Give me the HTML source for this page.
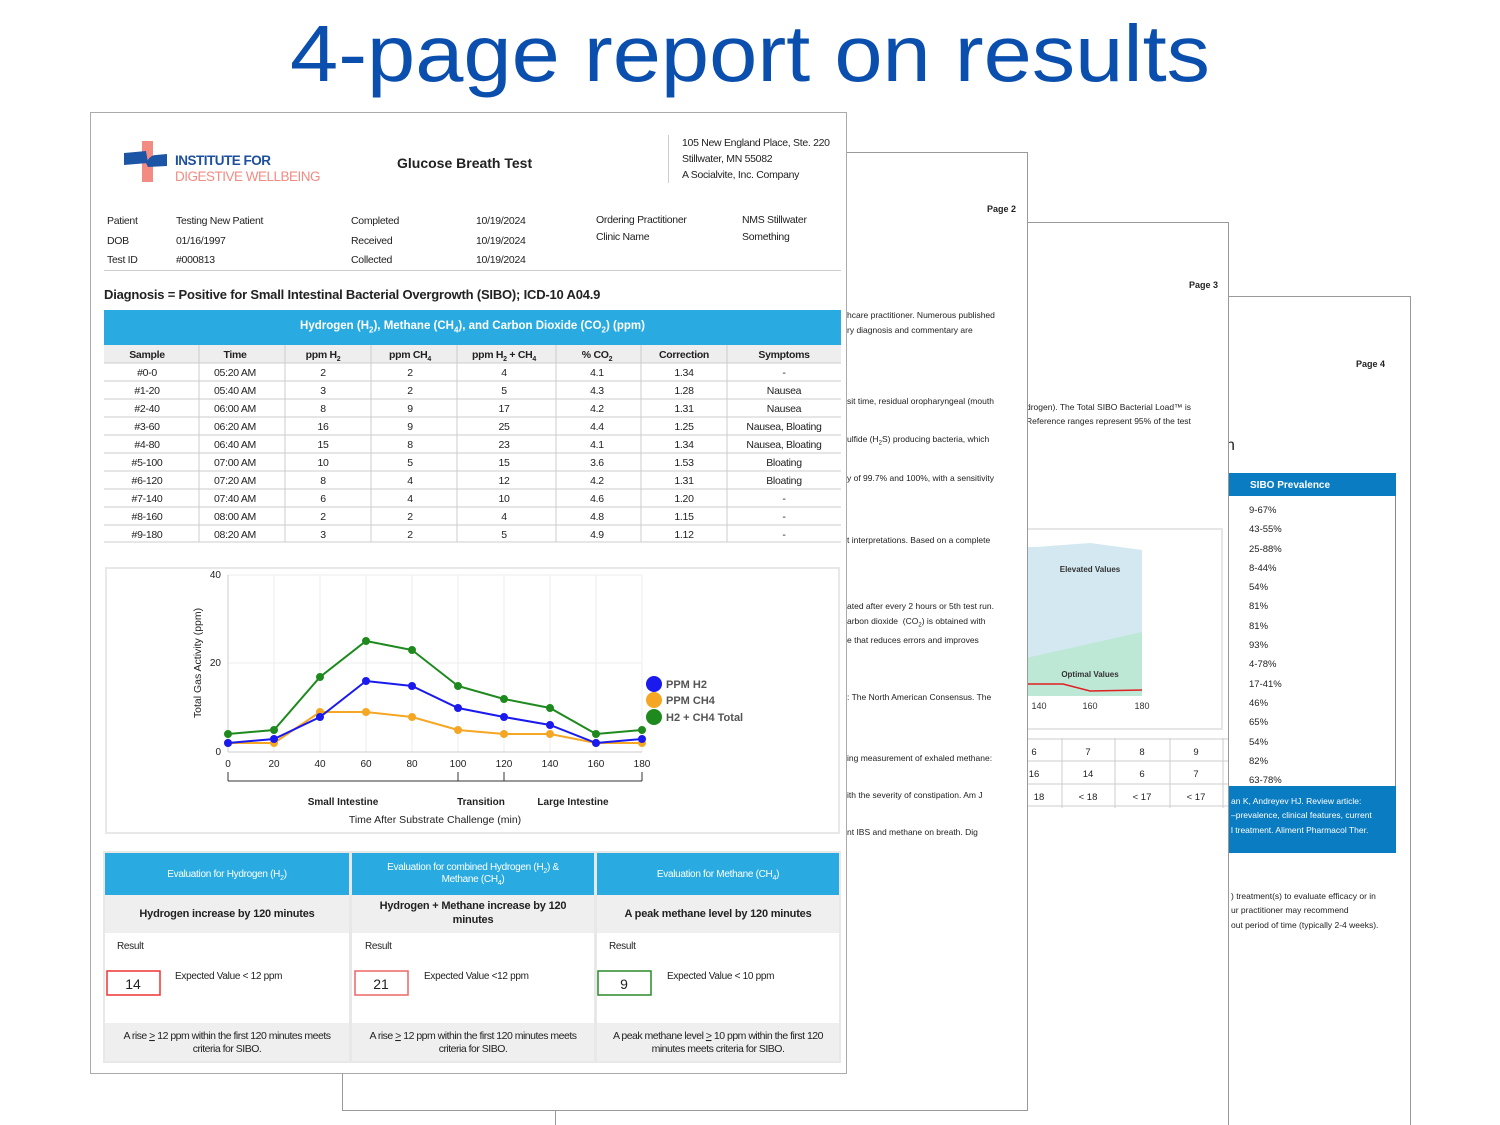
<!DOCTYPE html>
<html style="width:1500px;height:1125px;overflow:hidden"><head><meta charset="utf-8"><style>
*{margin:0;padding:0;box-sizing:border-box}
html,body{overflow:hidden}
body{width:1500px;height:1125px;background:#fff;position:relative;overflow:hidden;font-family:"Liberation Sans",Arial,sans-serif;color:#222}
.a{position:absolute;white-space:nowrap}
.pg{position:absolute;background:#fff;border:1px solid #999}
.s{font-size:9px;color:#222}
</style></head><body>

<svg class="a" style="left:0;top:0" width="1500" height="110"><text x="290" y="81" textLength="920" lengthAdjust="spacingAndGlyphs" font-family="Liberation Sans" font-size="80" fill="#0b4fae">4-page report on results</text></svg>

<!-- page 4 -->
<div class="pg" style="left:1000px;top:296px;width:411px;height:860px">
  <div class="a s" style="left:355px;top:62px;font-weight:bold">Page 4</div>
  <div class="a" style="left:225px;top:140px;font-size:16px">n</div>
  <div class="a" style="left:228px;top:176px;width:167px;height:23px;background:#0a7cc1"></div>
  <div class="a" style="left:249px;top:183px;font-size:10px;color:#fff;font-weight:bold">SIBO Prevalence</div>
  <div class="a" style="left:394px;top:199px;width:1px;height:290px;background:#888"></div>
  <div class="a" style="left:248px;top:204px;font-size:9.5px;line-height:19.3px;white-space:pre">9-67%
43-55%
25-88%
8-44%
54%
81%
81%
93%
4-78%
17-41%
46%
65%
54%
82%
63-78%</div>
  <div class="a" style="left:228px;top:489px;width:167px;height:67px;background:#0a7cc1"></div>
  <div class="a" style="left:230px;top:497px;font-size:8.5px;color:#fff;line-height:14.3px;white-space:pre">an K, Andreyev HJ. Review article:
–prevalence, clinical features, current
l treatment. Aliment Pharmacol Ther.</div>
  <div class="a" style="left:230px;top:592px;font-size:8.5px;line-height:14.3px;white-space:pre">) treatment(s) to evaluate efficacy or in
ur practitioner may recommend
out period of time (typically 2-4 weeks).</div>
</div>

<!-- page 3 -->
<div class="pg" style="left:555px;top:222px;width:674px;height:940px">
  <div class="a s" style="left:633px;top:57px;font-weight:bold">Page 3</div>
  <div class="a" style="left:470px;top:177px;font-size:8.5px;line-height:14px;white-space:pre">drogen). The Total SIBO Bacterial Load™ is
Reference ranges represent 95% of the test</div>
  <div class="a" style="left:467px;top:305px;width:200px;height:202px;border:2px solid #e6e6e6"></div>
  <svg class="a" style="left:470px;top:320px" width="200" height="200">
    <polygon points="0,4 10,4 64,0 116,7 116,153 0,153" fill="#d3e8f0"/>
    <polygon points="0,115 116,89 116,153 0,153" fill="#bde8d6"/>
    <polyline points="0,141 37,141 64,148 116,147" fill="none" stroke="#e02020" stroke-width="1.5"/>
    <text x="64" y="29" font-size="8" font-weight="bold" text-anchor="middle" fill="#333">Elevated Values</text>
    <text x="64" y="134" font-size="8" font-weight="bold" text-anchor="middle" fill="#333">Optimal Values</text>
    <text x="13" y="166" font-size="9" text-anchor="middle" fill="#333">140</text>
    <text x="64" y="166" font-size="9" text-anchor="middle" fill="#333">160</text>
    <text x="116" y="166" font-size="9" text-anchor="middle" fill="#333">180</text>
  </svg>
  <svg class="a" style="left:460px;top:515px" width="215" height="70">
    <g stroke="#ccc"><line x1="0" x2="212" y1="1" y2="1"/><line x1="0" x2="212" y1="23" y2="23"/><line x1="0" x2="212" y1="46" y2="46"/><line x1="0" x2="212" y1="68" y2="68"/>
    <line x1="46" x2="46" y1="0" y2="70"/><line x1="99" x2="99" y1="0" y2="70"/><line x1="154" x2="154" y1="0" y2="70"/><line x1="207" x2="207" y1="0" y2="70"/></g>
    <g font-size="9.5" fill="#222" text-anchor="middle"><text x="18" y="17">6</text><text x="72" y="17">7</text><text x="126" y="17">8</text><text x="180" y="17">9</text>
    <text x="18" y="39">16</text><text x="72" y="39">14</text><text x="126" y="39">6</text><text x="180" y="39">7</text>
    <text x="23" y="62">18</text><text x="72" y="62">&lt; 18</text><text x="126" y="62">&lt; 17</text><text x="180" y="62">&lt; 17</text></g>
  </svg>
</div>

<!-- page 2 -->
<div class="pg" style="left:342px;top:152px;width:686px;height:959px">
  <div class="a s" style="left:644px;top:51px;font-weight:bold">Page 2</div>
  <div class="a" style="left:504px;top:155px;font-size:8.5px;line-height:14.5px;white-space:pre">hcare practitioner. Numerous published
ry diagnosis and commentary are</div>
  <div class="a" style="left:504px;top:243px;font-size:8.5px">sit time, residual oropharyngeal (mouth</div>
  <div class="a" style="left:504px;top:281px;font-size:8.5px">ulfide (H<sub style="font-size:6px">2</sub>S) producing bacteria, which</div>
  <div class="a" style="left:504px;top:320px;font-size:8.5px">y of 99.7% and 100%, with a sensitivity</div>
  <div class="a" style="left:504px;top:382px;font-size:8.5px">t interpretations. Based on a complete</div>
  <div class="a" style="left:504px;top:446px;font-size:8.5px;line-height:14.5px;white-space:pre">ated after every 2 hours or 5th test run.
arbon dioxide  (CO<sub style="font-size:6px">2</sub>) is obtained with
e that reduces errors and improves</div>
  <div class="a" style="left:504px;top:539px;font-size:8.5px">: The North American Consensus. The</div>
  <div class="a" style="left:504px;top:600px;font-size:8.5px">ing measurement of exhaled methane:</div>
  <div class="a" style="left:504px;top:637px;font-size:8.5px">ith the severity of constipation. Am J</div>
  <div class="a" style="left:504px;top:674px;font-size:8.5px">nt IBS and methane on breath. Dig</div>
</div>

<!-- page 1 -->
<div class="pg" style="left:90px;top:112px;width:757px;height:962px;border-color:#aaa">
  <div class="a" style="left:51px;top:28px;width:11px;height:41px;background:#f28b82"></div>
  <svg class="a" style="left:33px;top:38px" width="45" height="20"><path d="M0,2 L22,0 L24,12 L0,14Z" fill="#1d55a6"/><path d="M22,12 Q26,4 32,4 L43,3 L43,15 L24,16Z" fill="#1d55a6"/></svg>
  <div class="a" style="left:84px;top:40px;font-size:13.5px;font-weight:bold;color:#1d4f9f;letter-spacing:-0.5px">INSTITUTE FOR</div>
  <div class="a" style="left:84px;top:56px;font-size:13.5px;color:#f28b82;letter-spacing:-0.5px">DIGESTIVE WELLBEING</div>
  <div class="a" style="left:306px;top:42px;font-size:14px;font-weight:bold">Glucose Breath Test</div>
  <div class="a" style="left:577px;top:22px;width:1px;height:48px;background:#ccc"></div>
  <div class="a" style="left:591px;top:22px;font-size:10.5px;line-height:16px;white-space:pre;letter-spacing:-0.3px">105 New England Place, Ste. 220
Stillwater, MN 55082
A Socialvite, Inc. Company</div>
  <div class="a" style="left:16px;top:99px;font-size:10.5px;line-height:19.5px;white-space:pre;letter-spacing:-0.3px">Patient
DOB
Test ID</div>
  <div class="a" style="left:85px;top:99px;font-size:10.5px;line-height:19.5px;white-space:pre;letter-spacing:-0.3px">Testing New Patient
01/16/1997
#000813</div>
  <div class="a" style="left:260px;top:99px;font-size:10.5px;line-height:19.5px;white-space:pre;letter-spacing:-0.3px">Completed
Received
Collected</div>
  <div class="a" style="left:385px;top:99px;font-size:10.5px;line-height:19.5px;white-space:pre;letter-spacing:-0.3px">10/19/2024
10/19/2024
10/19/2024</div>
  <div class="a" style="left:505px;top:99px;font-size:10.5px;line-height:17px;white-space:pre;letter-spacing:-0.3px">Ordering Practitioner
Clinic Name</div>
  <div class="a" style="left:651px;top:99px;font-size:10.5px;line-height:17px;white-space:pre;letter-spacing:-0.3px">NMS Stillwater
Something</div>
  <div class="a" style="left:13px;top:157px;width:737px;height:1px;background:#ccc"></div>
  <div class="a" style="left:13px;top:174px;font-size:13px;font-weight:bold;letter-spacing:-0.2px">Diagnosis = Positive for Small Intestinal Bacterial Overgrowth (SIBO); ICD-10 A04.9</div>

  <div class="a" style="left:13px;top:197px;width:737px;height:35px;background:#29abe2"></div>
  <div class="a" style="left:13px;top:207px;width:737px;text-align:center;color:#fff;font-weight:bold;font-size:11.5px">Hydrogen (H<sub style="font-size:8px">2</sub>), Methane (CH<sub style="font-size:8px">4</sub>), and Carbon Dioxide (CO<sub style="font-size:8px">2</sub>) (ppm)</div>
  <svg class="a" style="left:13px;top:232px" width="740" height="200">
    <rect x="0" y="0" width="737" height="18" fill="#eee"/>
    <g stroke="#ccc" stroke-width="1">
      <line x1="0" x2="737" y1="18" y2="18"/>
      <line x1="0" x2="737" y1="36" y2="36"/><line x1="0" x2="737" y1="54" y2="54"/><line x1="0" x2="737" y1="72" y2="72"/><line x1="0" x2="737" y1="90" y2="90"/><line x1="0" x2="737" y1="108" y2="108"/><line x1="0" x2="737" y1="126" y2="126"/><line x1="0" x2="737" y1="144" y2="144"/><line x1="0" x2="737" y1="162" y2="162"/><line x1="0" x2="737" y1="180" y2="180"/><line x1="0" x2="737" y1="197" y2="197"/>
      <line x1="95" x2="95" y1="0" y2="197"/><line x1="181" x2="181" y1="0" y2="197"/><line x1="267" x2="267" y1="0" y2="197"/><line x1="353" x2="353" y1="0" y2="197"/><line x1="452" x2="452" y1="0" y2="197"/><line x1="537" x2="537" y1="0" y2="197"/><line x1="623" x2="623" y1="0" y2="197"/>
    </g>
    <g font-size="10.5" text-anchor="middle" font-weight="bold" fill="#222" letter-spacing="-0.3">
      <text x="43" y="13">Sample</text><text x="131" y="13">Time</text><text x="219" y="13">ppm H<tspan font-size="7" dy="3">2</tspan></text><text x="306" y="13">ppm CH<tspan font-size="7" dy="3">4</tspan></text><text x="400" y="13">ppm H<tspan font-size="7" dy="3">2</tspan><tspan dy="-3"> + CH</tspan><tspan font-size="7" dy="3">4</tspan></text><text x="493" y="13">% CO<tspan font-size="7" dy="3">2</tspan></text><text x="580" y="13">Correction</text><text x="680" y="13">Symptoms</text>
    </g>
    <g font-size="10.5" text-anchor="middle" fill="#222" letter-spacing="-0.3">
      <text x="43" y="31">#0-0</text><text x="131" y="31">05:20 AM</text><text x="219" y="31">2</text><text x="306" y="31">2</text><text x="400" y="31">4</text><text x="493" y="31">4.1</text><text x="580" y="31">1.34</text><text x="680" y="31">-</text>
      <text x="43" y="49">#1-20</text><text x="131" y="49">05:40 AM</text><text x="219" y="49">3</text><text x="306" y="49">2</text><text x="400" y="49">5</text><text x="493" y="49">4.3</text><text x="580" y="49">1.28</text><text x="680" y="49">Nausea</text>
      <text x="43" y="67">#2-40</text><text x="131" y="67">06:00 AM</text><text x="219" y="67">8</text><text x="306" y="67">9</text><text x="400" y="67">17</text><text x="493" y="67">4.2</text><text x="580" y="67">1.31</text><text x="680" y="67">Nausea</text>
      <text x="43" y="85">#3-60</text><text x="131" y="85">06:20 AM</text><text x="219" y="85">16</text><text x="306" y="85">9</text><text x="400" y="85">25</text><text x="493" y="85">4.4</text><text x="580" y="85">1.25</text><text x="680" y="85">Nausea, Bloating</text>
      <text x="43" y="103">#4-80</text><text x="131" y="103">06:40 AM</text><text x="219" y="103">15</text><text x="306" y="103">8</text><text x="400" y="103">23</text><text x="493" y="103">4.1</text><text x="580" y="103">1.34</text><text x="680" y="103">Nausea, Bloating</text>
      <text x="43" y="121">#5-100</text><text x="131" y="121">07:00 AM</text><text x="219" y="121">10</text><text x="306" y="121">5</text><text x="400" y="121">15</text><text x="493" y="121">3.6</text><text x="580" y="121">1.53</text><text x="680" y="121">Bloating</text>
      <text x="43" y="139">#6-120</text><text x="131" y="139">07:20 AM</text><text x="219" y="139">8</text><text x="306" y="139">4</text><text x="400" y="139">12</text><text x="493" y="139">4.2</text><text x="580" y="139">1.31</text><text x="680" y="139">Bloating</text>
      <text x="43" y="157">#7-140</text><text x="131" y="157">07:40 AM</text><text x="219" y="157">6</text><text x="306" y="157">4</text><text x="400" y="157">10</text><text x="493" y="157">4.6</text><text x="580" y="157">1.20</text><text x="680" y="157">-</text>
      <text x="43" y="175">#8-160</text><text x="131" y="175">08:00 AM</text><text x="219" y="175">2</text><text x="306" y="175">2</text><text x="400" y="175">4</text><text x="493" y="175">4.8</text><text x="580" y="175">1.15</text><text x="680" y="175">-</text>
      <text x="43" y="193">#9-180</text><text x="131" y="193">08:20 AM</text><text x="219" y="193">3</text><text x="306" y="193">2</text><text x="400" y="193">5</text><text x="493" y="193">4.9</text><text x="580" y="193">1.12</text><text x="680" y="193">-</text>
    </g>
  </svg>

  <div class="a" style="left:14px;top:454px;width:735px;height:267px;border:2px solid #e8e8e8"></div>
  <svg class="a" style="left:0;top:440px" width="757" height="290">
    <g stroke="#eee"><line x1="137" x2="551" y1="22" y2="22"/><line x1="137" x2="551" y1="110" y2="110"/>
    <line x1="183" x2="183" y1="22" y2="199"/><line x1="229" x2="229" y1="22" y2="199"/><line x1="275" x2="275" y1="22" y2="199"/><line x1="321" x2="321" y1="22" y2="199"/><line x1="367" x2="367" y1="22" y2="199"/><line x1="413" x2="413" y1="22" y2="199"/><line x1="459" x2="459" y1="22" y2="199"/><line x1="505" x2="505" y1="22" y2="199"/><line x1="551" x2="551" y1="22" y2="199"/></g>
    <line x1="137" x2="137" y1="22" y2="199" stroke="#ccc"/><line x1="137" x2="551" y1="199" y2="199" stroke="#ccc"/>
    <g font-size="10" fill="#222"><text x="130" y="25" text-anchor="end">40</text><text x="130" y="113" text-anchor="end">20</text><text x="130" y="202" text-anchor="end">0</text></g>
    <g font-size="10" fill="#222" text-anchor="middle"><text x="137" y="214">0</text><text x="183" y="214">20</text><text x="229" y="214">40</text><text x="275" y="214">60</text><text x="321" y="214">80</text><text x="367" y="214">100</text><text x="413" y="214">120</text><text x="459" y="214">140</text><text x="505" y="214">160</text><text x="551" y="214">180</text></g>
    <text transform="translate(110,110) rotate(-90)" font-size="10.5" text-anchor="middle" fill="#222">Total Gas Activity (ppm)</text>
    <g stroke="#333" fill="none"><line x1="137" x2="551" y1="228" y2="228"/><line x1="137" x2="137" y1="219" y2="228"/><line x1="367" x2="367" y1="219" y2="228"/><line x1="413" x2="413" y1="219" y2="228"/><line x1="551" x2="551" y1="219" y2="228"/></g>
    <g font-size="10" font-weight="bold" fill="#222" text-anchor="middle"><text x="252" y="252">Small Intestine</text><text x="390" y="252">Transition</text><text x="482" y="252">Large Intestine</text></g>
    <text x="344" y="270" font-size="10.5" text-anchor="middle" fill="#222">Time After Substrate Challenge (min)</text>
    <g fill="#f5a623" stroke="#f5a623" stroke-width="2">
      <polyline fill="none" points="137,190 183,190 229,159 275,159 321,164 367,177 413,181 459,181 505,190 551,190"/>
      <circle cx="137" cy="190" r="3"/><circle cx="183" cy="190" r="3"/><circle cx="229" cy="159" r="3"/><circle cx="275" cy="159" r="3"/><circle cx="321" cy="164" r="3"/><circle cx="367" cy="177" r="3"/><circle cx="413" cy="181" r="3"/><circle cx="459" cy="181" r="3"/><circle cx="505" cy="190" r="3"/><circle cx="551" cy="190" r="3"/>
    </g>
    <g fill="#1a1aee" stroke="#1a1aee" stroke-width="2">
      <polyline fill="none" points="137,190 183,186 229,164 275,128 321,133 367,155 413,164 459,172 505,190 551,186"/>
      <circle cx="137" cy="190" r="3"/><circle cx="183" cy="186" r="3"/><circle cx="229" cy="164" r="3"/><circle cx="275" cy="128" r="3"/><circle cx="321" cy="133" r="3"/><circle cx="367" cy="155" r="3"/><circle cx="413" cy="164" r="3"/><circle cx="459" cy="172" r="3"/><circle cx="505" cy="190" r="3"/><circle cx="551" cy="186" r="3"/>
    </g>
    <g fill="#1e8a1e" stroke="#1e8a1e" stroke-width="2">
      <polyline fill="none" points="137,181 183,177 229,124 275,88 321,97 367,133 413,146 459,155 505,181 551,177"/>
      <circle cx="137" cy="181" r="3"/><circle cx="183" cy="177" r="3"/><circle cx="229" cy="124" r="3"/><circle cx="275" cy="88" r="3"/><circle cx="321" cy="97" r="3"/><circle cx="367" cy="133" r="3"/><circle cx="413" cy="146" r="3"/><circle cx="459" cy="155" r="3"/><circle cx="505" cy="181" r="3"/><circle cx="551" cy="177" r="3"/>
    </g>
    <ellipse cx="563" cy="131" rx="8" ry="8" fill="#1a1aee"/><ellipse cx="563" cy="147" rx="8" ry="8" fill="#f5a623"/><ellipse cx="563" cy="164" rx="8" ry="8" fill="#1e8a1e"/>
    <g font-size="11" font-weight="bold" fill="#555"><text x="575" y="135">PPM H2</text><text x="575" y="151">PPM CH4</text><text x="575" y="168">H2 + CH4 Total</text></g>
  </svg>

  <svg class="a" style="left:12px;top:738px" width="740" height="215">
    <rect x="0" y="0" width="738" height="212" fill="#e8e8e8"/>
    <rect x="2" y="2" width="244" height="42" fill="#29abe2"/><rect x="249" y="2" width="242" height="42" fill="#29abe2"/><rect x="494" y="2" width="242" height="42" fill="#29abe2"/>
    <rect x="2" y="44" width="244" height="38" fill="#efefef"/><rect x="249" y="44" width="242" height="38" fill="#efefef"/><rect x="494" y="44" width="242" height="38" fill="#efefef"/>
    <rect x="2" y="82" width="244" height="90" fill="#fff"/><rect x="249" y="82" width="242" height="90" fill="#fff"/><rect x="494" y="82" width="242" height="90" fill="#fff"/>
    <rect x="2" y="172" width="244" height="38" fill="#efefef"/><rect x="249" y="172" width="242" height="38" fill="#efefef"/><rect x="494" y="172" width="242" height="38" fill="#efefef"/>
    <g font-size="10" fill="#fff" text-anchor="middle" letter-spacing="-0.3">
      <text x="124" y="26">Evaluation for Hydrogen (H<tspan font-size="7" dy="3">2</tspan><tspan dy="-3">)</tspan></text>
      <text x="370" y="19">Evaluation for combined Hydrogen (H<tspan font-size="7" dy="3">2</tspan><tspan dy="-3">) &amp;</tspan></text>
      <text x="370" y="31">Methane (CH<tspan font-size="7" dy="3">4</tspan><tspan dy="-3">)</tspan></text>
      <text x="615" y="26">Evaluation for Methane (CH<tspan font-size="7" dy="3">4</tspan><tspan dy="-3">)</tspan></text>
    </g>
    <g font-size="11" font-weight="bold" fill="#222" text-anchor="middle" letter-spacing="-0.2">
      <text x="124" y="66">Hydrogen increase by 120 minutes</text>
      <text x="370" y="58">Hydrogen + Methane increase by 120</text><text x="370" y="72">minutes</text>
      <text x="615" y="66">A peak methane level by 120 minutes</text>
    </g>
    <g font-size="10" fill="#222" letter-spacing="-0.3">
      <text x="14" y="98">Result</text><text x="262" y="98">Result</text><text x="506" y="98">Result</text>
      <text x="72" y="128">Expected Value &lt; 12 ppm</text><text x="321" y="128">Expected Value &lt;12 ppm</text><text x="564" y="128">Expected Value &lt; 10 ppm</text>
    </g>
    <rect x="4" y="120" width="53" height="24" fill="#fff" stroke="#e33" stroke-width="1.5"/><rect x="252" y="120" width="53" height="24" fill="#fff" stroke="#e66" stroke-width="1.5"/><rect x="495" y="120" width="53" height="24" fill="#fff" stroke="#2a8a2a" stroke-width="1.5"/>
    <g font-size="14" fill="#222" text-anchor="middle"><text x="30" y="138">14</text><text x="278" y="138">21</text><text x="521" y="138">9</text></g>
    <g font-size="10.5" fill="#222" text-anchor="middle" letter-spacing="-0.5">
      <text x="124" y="188">A rise <tspan text-decoration="underline">&gt;</tspan> 12 ppm within the first 120 minutes meets</text><text x="124" y="201">criteria for SIBO.</text>
      <text x="370" y="188">A rise <tspan text-decoration="underline">&gt;</tspan> 12 ppm within the first 120 minutes meets</text><text x="370" y="201">criteria for SIBO.</text>
      <text x="615" y="188">A peak methane level <tspan text-decoration="underline">&gt;</tspan> 10 ppm within the first 120</text><text x="615" y="201">minutes meets criteria for SIBO.</text>
    </g>
  </svg>
</div>
</body></html>
